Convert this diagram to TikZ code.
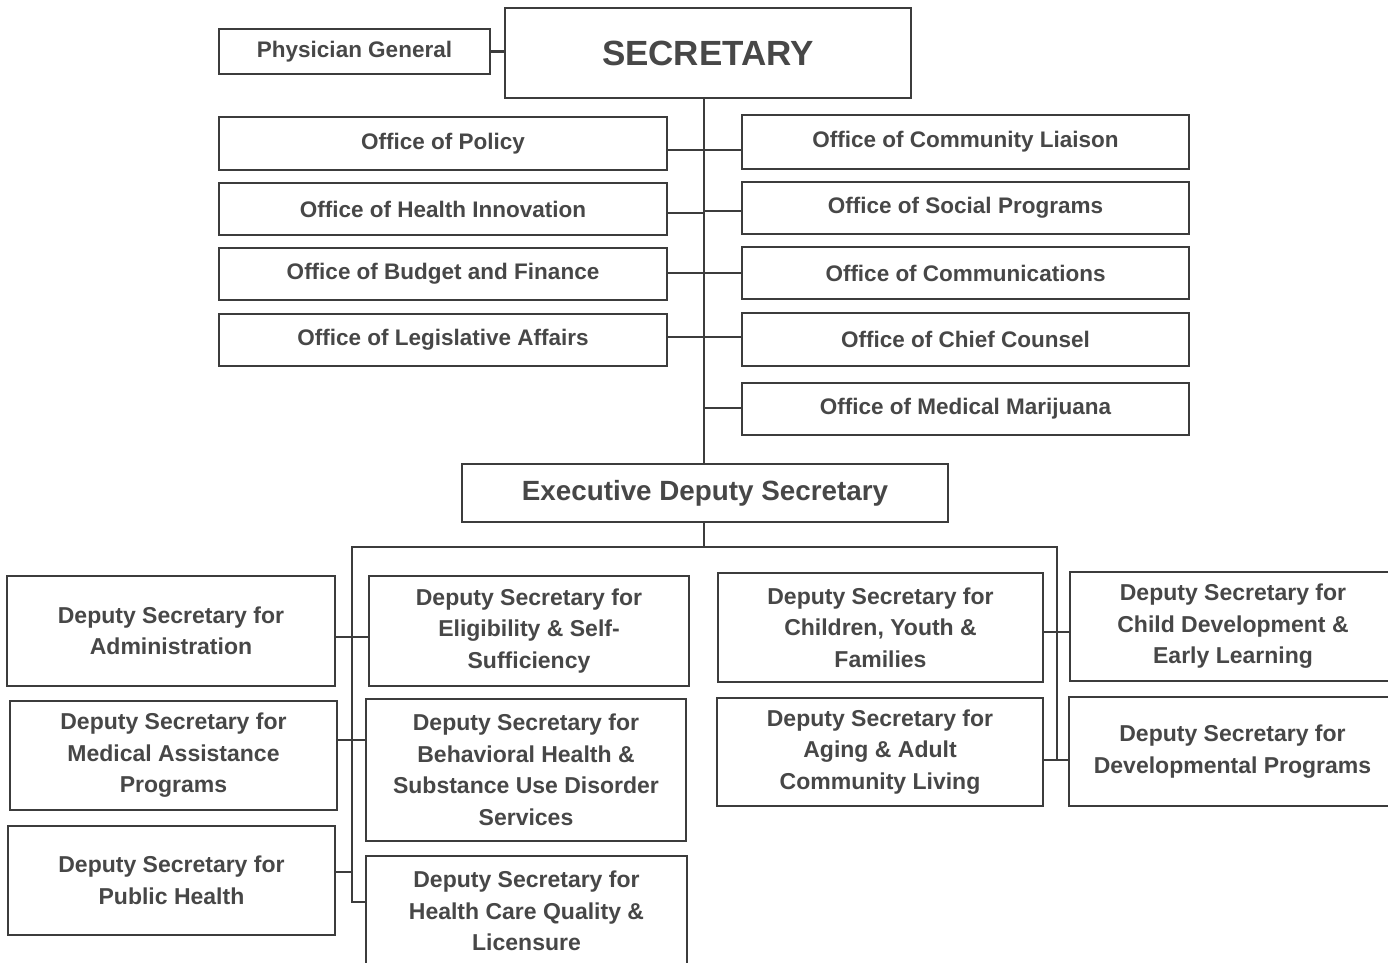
\documentclass[tikz,border=0pt]{standalone}
\usepackage{fontspec}
\setmainfont{Liberation Sans}
\definecolor{linec}{HTML}{3C3C3C}
\definecolor{textc}{HTML}{474747}
\begin{document}
\begin{tikzpicture}[x=1pt,y=-1pt,
  box/.style={draw=linec, line width=2.8pt, text=textc, align=center, inner sep=0pt, outer sep=0pt, font=\bfseries\fontsize{22.5}{31.5}\selectfont},
  dbox/.style={box, font=\bfseries\fontsize{23}{31.5}\selectfont},
  conn/.style={draw=linec, line width=2.8pt}]
\useasboundingbox (0,0) rectangle (1388,962);
\fill[white] (0,0) rectangle (1388,962);
\clip (0,0) rectangle (1388,962);
% top
\node[box, minimum width=271pt, minimum height=45pt] (phys) at (354.5,51.5) {Physician General};
\node[box, minimum width=406pt, minimum height=90pt, font=\bfseries\fontsize{35}{40}\selectfont] (sec) at (708,53) {SECRETARY};
% left offices
\node[box, minimum width=448pt, minimum height=53pt] (pol) at (443,143.5) {Office of Policy};
\node[box, minimum width=448pt, minimum height=52pt] (hin) at (443,209) {Office of Health Innovation};
\node[box, minimum width=448pt, minimum height=52pt] (bud) at (443,274) {Office of Budget and Finance};
\node[box, minimum width=448pt, minimum height=52pt] (leg) at (443,340) {Office of Legislative Affairs};
% right offices
\node[box, minimum width=447pt, minimum height=54pt] (com) at (965.5,142) {Office of Community Liaison};
\node[box, minimum width=447pt, minimum height=52pt] (soc) at (965.5,208) {Office of Social Programs};
\node[box, minimum width=447pt, minimum height=52pt] (cmm) at (965.5,273) {Office of Communications};
\node[box, minimum width=447pt, minimum height=53pt] (cc) at (965.5,339.5) {Office of Chief Counsel};
\node[box, minimum width=447pt, minimum height=52pt] (mm) at (965.5,409) {Office of Medical Marijuana};
% executive
\node[box, minimum width=486pt, minimum height=58pt, font=\bfseries\fontsize{27.8}{32}\selectfont] (exec) at (705,493) {Executive Deputy Secretary};
% deputies
\node[dbox, minimum width=328pt, minimum height=110pt] (adm) at (171,631) {Deputy Secretary for\\Administration};
\node[dbox, minimum width=327pt, minimum height=109pt] (med) at (173.5,755.5) {Deputy Secretary for\\Medical Assistance\\Programs};
\node[dbox, minimum width=327pt, minimum height=109pt] (pub) at (171.5,880.5) {Deputy Secretary for\\Public Health};
\node[dbox, minimum width=320pt, minimum height=110pt] (elig) at (529,631) {Deputy Secretary for\\Eligibility \& Self-\\Sufficiency};
\node[dbox, minimum width=320pt, minimum height=142pt] (beh) at (526,770) {Deputy Secretary for\\Behavioral Health \&\\Substance Use Disorder\\Services};
\node[dbox, minimum width=321pt, minimum height=110pt] (hcq) at (526.5,911) {Deputy Secretary for\\Health Care Quality \&\\Licensure};
\node[dbox, minimum width=325pt, minimum height=109pt] (cyf) at (880.5,627.5) {Deputy Secretary for\\Children, Youth \&\\Families};
\node[dbox, minimum width=326pt, minimum height=108pt] (aac) at (880,752) {Deputy Secretary for\\Aging \& Adult\\Community Living};
\node[dbox, minimum width=326pt, minimum height=109pt] (cde) at (1233,626.5) {Deputy Secretary for\\Child Development \&\\Early Learning};
\node[dbox, minimum width=327pt, minimum height=109pt] (dev) at (1232.5,751.5) {Deputy Secretary for\\Developmental Programs};
% coordinates
\coordinate (tx) at (704,0);
\coordinate (lb) at (352,547);
\coordinate (rb) at (1057,547);
% connectors top
\draw[conn] (phys.east) -- (phys.east -| sec.west);
\draw[conn] (sec.south -| tx) -- (exec.north -| tx);
\draw[conn] ([yshift=-6.5pt]pol.east) -- ([yshift=-6.5pt]pol.east -| tx);
\draw[conn] ([yshift=-4pt]hin.east) -- ([yshift=-4pt]hin.east -| tx);
\draw[conn] ([yshift=1pt]bud.east) -- ([yshift=1pt]bud.east -| tx);
\draw[conn] ([yshift=3pt]leg.east) -- ([yshift=3pt]leg.east -| tx);
\draw[conn] ([yshift=-8pt]com.west) -- ([yshift=-8pt]com.west -| tx);
\draw[conn] ([yshift=-3pt]soc.west) -- ([yshift=-3pt]soc.west -| tx);
\draw[conn] (cmm.west) -- (cmm.west -| tx);
\draw[conn] ([yshift=2.5pt]cc.west) -- ([yshift=2.5pt]cc.west -| tx);
\draw[conn] ([yshift=1pt]mm.west) -- ([yshift=1pt]mm.west -| tx);
% lower trunk and buses
\draw[conn] (exec.south -| tx) -- (lb -| tx);
\draw[conn] ([yshift=9pt]hcq.west) -| (lb) -- (rb) |- ([yshift=-8pt]aac.east);
\draw[conn] ([yshift=-6pt]adm.east) -- ([yshift=-6pt]adm.east -| elig.west);
\draw[conn] ([yshift=15.5pt]med.east) -- ([yshift=15.5pt]med.east -| beh.west);
\draw[conn] ([yshift=8.5pt]pub.east) -- ([yshift=8.5pt]pub.east -| lb);
\draw[conn] ([yshift=-4.5pt]cyf.east) -- ([yshift=-4.5pt]cyf.east -| cde.west);
\draw[conn] ([yshift=-8pt]aac.east) -- ([yshift=-8pt]aac.east -| dev.west);
\end{tikzpicture}
\end{document}
